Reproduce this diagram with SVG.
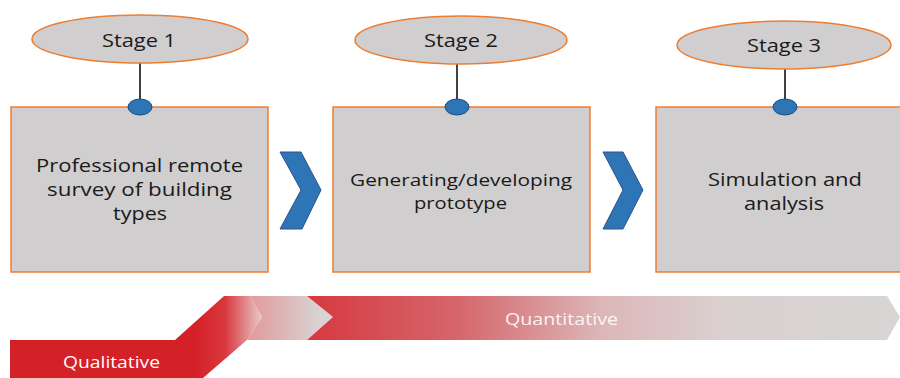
<svg xmlns="http://www.w3.org/2000/svg" width="900" height="378" viewBox="0 0 900 378">
  <defs>
    <style>
      .box { fill: #D0CECE; stroke: #ED7D31; stroke-width: 1.5; }
      .oval { fill: #D0CECE; stroke: #ED7D31; stroke-width: 1.5; }
      .stem { stroke: #000000; stroke-width: 1.5; }
      .dot { fill: #2E75B6; stroke: #1F4E79; stroke-width: 1; }
      .chev { fill: #2E75B6; stroke: #2F528F; stroke-width: 1; }
      .lbl { font-family: "Open Sans", "Liberation Sans", sans-serif; font-size: 19px; fill: #1a1a1a; text-anchor: middle; }
      .sm { font-size: 17px; }
      .band { font-family: "Open Sans", "Liberation Sans", sans-serif; font-size: 16px; fill: #ffffff; }
    </style>
    <linearGradient id="gStep" gradientUnits="userSpaceOnUse" x1="195" y1="0" x2="262" y2="0">
      <stop offset="0" stop-color="#D42027"/>
      <stop offset="0.45" stop-color="#D9383E"/>
      <stop offset="1" stop-color="#E8C9CA"/>
    </linearGradient>
    <linearGradient id="gMid" gradientUnits="userSpaceOnUse" x1="250" y1="0" x2="320" y2="0">
      <stop offset="0" stop-color="#E29A9D"/>
      <stop offset="1" stop-color="#D9D3D3"/>
    </linearGradient>
    <linearGradient id="gLong" gradientUnits="userSpaceOnUse" x1="307" y1="0" x2="900" y2="0">
      <stop offset="0" stop-color="#D6393F"/>
      <stop offset="0.25" stop-color="#D5656A"/>
      <stop offset="0.5" stop-color="#DDB7B8"/>
      <stop offset="0.7" stop-color="#DAD0D0"/>
      <stop offset="1" stop-color="#D7D5D5"/>
    </linearGradient>
  </defs>

  <!-- qualitative to quantitative band -->
  <g id="band">
    <polygon points="10,340 175,340 224,296 250,296 262,317 247,340 203,378 10,378" fill="url(#gStep)"/>
    <polygon points="250,296 307,296 333,317 307,340 247,340 262,317" fill="url(#gMid)"/>
    <polygon points="307,296 887,296 900,317 887,340 307,340 333,317" fill="url(#gLong)"/>
    <text class="band" x="505" y="325" textLength="113" lengthAdjust="spacingAndGlyphs" fill-opacity="0.9">Quantitative</text>
    <text class="band" x="63" y="368" textLength="97" lengthAdjust="spacingAndGlyphs">Qualitative</text>
  </g>

  <!-- connectors: stems from stage ovals and chevrons between boxes -->
  <g id="connectors">
    <line class="stem" x1="140" y1="63" x2="140" y2="102"/>
    <line class="stem" x1="457" y1="63" x2="457" y2="102"/>
    <line class="stem" x1="785" y1="69" x2="785" y2="102"/>
    <polygon class="chev" points="280,152 301,152 321,190 302,229 280,229 301,190"/>
    <polygon class="chev" points="603,152 623,152 643,190 623,229 603,229 623,190"/>
  </g>

  <g id="stage1">
    <rect class="box" x="11" y="107" width="257" height="165"/>
    <ellipse class="oval" cx="140" cy="39" rx="108" ry="24"/>
    <text class="lbl" x="139" y="47" textLength="74" lengthAdjust="spacingAndGlyphs">Stage 1</text>
    <ellipse class="dot" cx="140" cy="107" rx="12" ry="8"/>
    <text class="lbl" x="139.5" y="172" textLength="207" lengthAdjust="spacingAndGlyphs">Professional remote</text>
    <text class="lbl" x="139.5" y="196" textLength="185" lengthAdjust="spacingAndGlyphs">survey of building</text>
    <text class="lbl" x="140" y="220" textLength="54" lengthAdjust="spacingAndGlyphs">types</text>
  </g>

  <g id="stage2">
    <rect class="box" x="333" y="107" width="257" height="165"/>
    <ellipse class="oval" cx="461" cy="40" rx="106" ry="24"/>
    <text class="lbl" x="461" y="47" textLength="74" lengthAdjust="spacingAndGlyphs">Stage 2</text>
    <ellipse class="dot" cx="457" cy="107" rx="12" ry="8"/>
    <text class="lbl sm" x="461" y="186" textLength="222" lengthAdjust="spacingAndGlyphs">Generating/developing</text>
    <text class="lbl sm" x="460.5" y="209" textLength="93" lengthAdjust="spacingAndGlyphs">prototype</text>
  </g>

  <g id="stage3">
    <rect class="box" x="656" y="107" width="254" height="165"/>
    <ellipse class="oval" cx="784" cy="45" rx="107" ry="24"/>
    <text class="lbl" x="784" y="52" textLength="74" lengthAdjust="spacingAndGlyphs">Stage 3</text>
    <ellipse class="dot" cx="785" cy="107" rx="12" ry="8"/>
    <text class="lbl" x="785" y="186" textLength="154" lengthAdjust="spacingAndGlyphs">Simulation and</text>
    <text class="lbl" x="784" y="210" textLength="80" lengthAdjust="spacingAndGlyphs">analysis</text>
  </g>
</svg>
